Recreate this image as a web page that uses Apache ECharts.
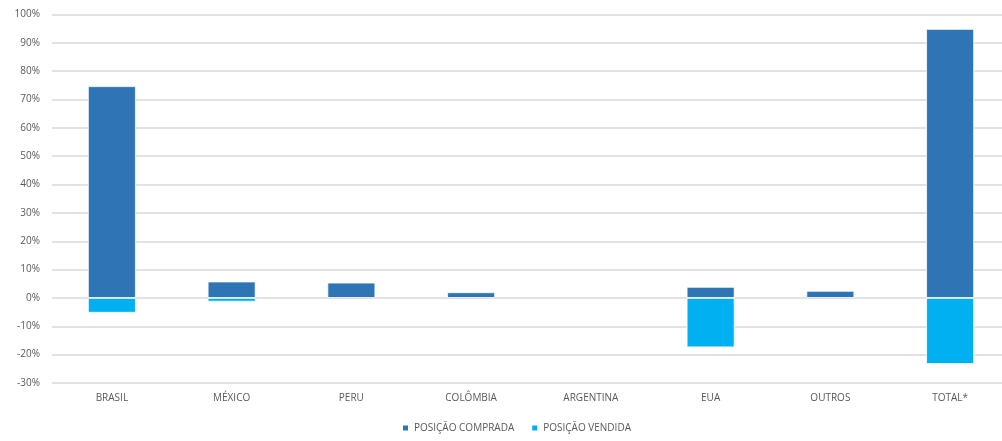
<!DOCTYPE html>
<html>
<head>
<meta charset="utf-8">
<script src="https://cdn.jsdelivr.net/npm/echarts@6/dist/echarts.min.js"></script>
<style>html,body{margin:0;padding:0;background:#fff;overflow:hidden;}#c{width:1010px;height:441px;}</style>
</head>
<body>
<div id="c"></div>
<script>
var categories = ['BRASIL', 'MÉXICO', 'PERU', 'COLÔMBIA', 'ARGENTINA', 'EUA', 'OUTROS', 'TOTAL*'];
var comprada = [74.7, 5.8, 5.4, 2.0, 0, 3.9, 2.5, 94.9];
var vendida = [-5.2, -1.3, 0, 0, 0, -17.4, 0, -23.3];
var seriesNames = ['POSIÇÃO COMPRADA', 'POSIÇÃO VENDIDA'];

function clean(arr) { return arr.map(function (v) { return v === 0 ? '-' : v; }); }

var chart = echarts.init(document.getElementById('c'));
var font = '"Open Sans", "Liberation Sans", sans-serif';
chart.setOption({
  animation: false,
  textStyle: { fontFamily: font },
  grid: { left: 52, right: 0, top: 14.5, bottom: 58 },
  legend: {
    bottom: 3, left: 396,
    itemWidth: 7, itemHeight: 7, itemGap: 16,
    icon: 'rect',
    textStyle: { fontSize: 10, color: '#595959', fontFamily: font },
    data: seriesNames
  },
  xAxis: {
    type: 'category', data: categories,
    axisLine: { show: false }, axisTick: { show: false },
    axisLabel: { fontSize: 10, color: '#595959', margin: 10, fontFamily: font }
  },
  yAxis: {
    type: 'value', min: -30, max: 100, interval: 10,
    axisLine: { show: false }, axisTick: { show: false },
    axisLabel: { formatter: '{value}%', fontSize: 10, color: '#595959', margin: 12, fontFamily: font },
    splitLine: { lineStyle: { color: '#D9D9D9', width: 1.5 } }
  },
  series: [
    { name: seriesNames[0], type: 'bar', stack: 'a', data: clean(comprada), barWidth: '40%',
      itemStyle: { color: '#2E75B6', borderColor: '#fff', borderWidth: 0.8 } },
    { name: seriesNames[1], type: 'bar', stack: 'a', data: clean(vendida), barWidth: '40%',
      itemStyle: { color: '#00B0F0', borderColor: '#fff', borderWidth: 0.8 } }
  ]
});
</script>
</body>
</html>
